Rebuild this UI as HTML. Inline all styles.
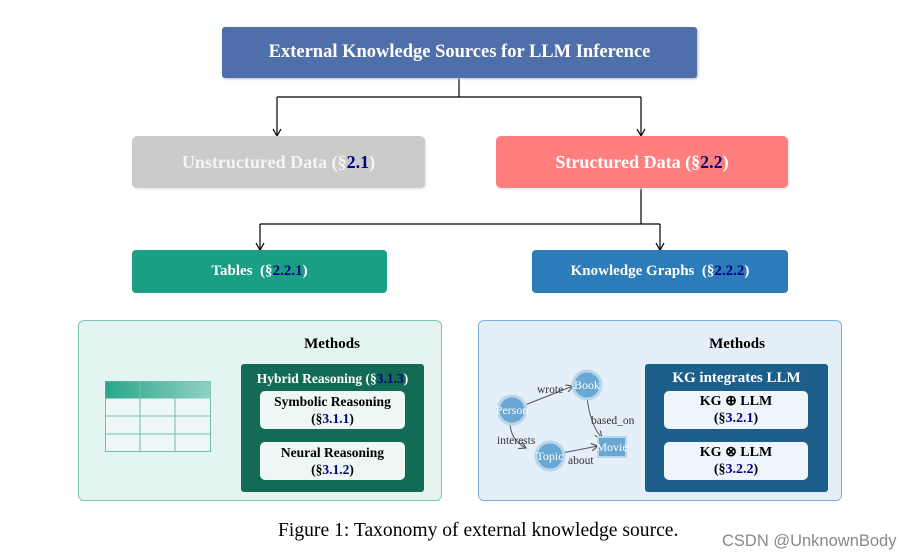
<!DOCTYPE html>
<html><head><meta charset="utf-8"><style>
body{margin:0;width:900px;height:558px;background:#fff;position:relative;overflow:hidden;font-family:"Liberation Serif",serif;}
.b{position:absolute;box-sizing:border-box;display:flex;align-items:center;justify-content:center;text-align:center;font-weight:bold;}
.n{color:#000080;}
.t{position:absolute;font-weight:bold;text-align:center;}
</style></head><body>
<svg width="900" height="558" style="position:absolute;left:0;top:0">
<g stroke="#000" stroke-width="1.2" fill="none">
<path d="M459,78 V97 M277,97 H641"/>
<path d="M277,97 V136 M641,97 V136"/>
<path d="M641,188 V224 M260,224 H660"/>
<path d="M260,224 V250 M660,224 V250"/>
<path d="M273,129 L277,136 L281,129 M637,129 L641,136 L645,129 M256,243 L260,250 L264,243 M656,243 L660,250 L664,243"/>
</g>
</svg>
<div class="b" style="left:222px;top:27px;width:475px;height:51px;background:#4e6fa9;color:#fff;font-size:18.5px;border-radius:3px;box-shadow:1px 1px 2px #bbb"><div>External Knowledge Sources for LLM Inference</div></div>
<div class="b" style="left:132px;top:136px;width:293px;height:52px;background:#cbcbcb;color:#f4f4f4;font-size:18px;border-radius:5px;box-shadow:1px 1px 2px #ddd"><div>Unstructured Data (§<span class="n">2.1</span>)</div></div>
<div class="b" style="left:496px;top:136px;width:292px;height:52px;background:#ff7f7f;color:#fff;font-size:18px;border-radius:5px;box-shadow:1px 1px 2px #ddd"><div>Structured Data (§<span class="n">2.2</span>)</div></div>
<div class="b" style="left:132px;top:250px;width:255px;height:43px;background:#1a9f85;color:#fff;font-size:15px;border-radius:4px"><div>Tables &nbsp;(§<span class="n">2.2.1</span>)</div></div>
<div class="b" style="left:532px;top:250px;width:256px;height:43px;background:#2b7cb8;color:#fff;font-size:15px;border-radius:4px"><div>Knowledge Graphs &nbsp;(§<span class="n">2.2.2</span>)</div></div>

<div style="position:absolute;left:78px;top:320px;width:364px;height:181px;box-sizing:border-box;background:#e3f4f1;border:1.5px solid #7cc6b6;border-radius:6px"></div>
<div class="t" style="left:272px;top:336px;width:120px;font-size:15px">Methods</div>
<svg width="106" height="71" style="position:absolute;left:105px;top:381px">
<defs><linearGradient id="g" x1="0" x2="1"><stop offset="0" stop-color="#2aa68b"/><stop offset="1" stop-color="#8fd1c2"/></linearGradient></defs>
<rect x="0.5" y="0.5" width="105" height="70" fill="#edf7f5" stroke="#6cc0ad"/>
<rect x="0.5" y="0.5" width="105" height="17" fill="url(#g)"/>
<g stroke="#6cc0ad"><line x1="0" y1="35" x2="106" y2="35"/><line x1="0" y1="53" x2="106" y2="53"/><line x1="35" y1="0" x2="35" y2="71"/><line x1="70" y1="0" x2="70" y2="71"/></g>
</svg>
<div style="position:absolute;left:241px;top:364px;width:183px;height:128px;background:#136b55;border-radius:3px"></div>
<div class="t" style="left:241px;top:371px;width:183px;font-size:13.5px;color:#fff">Hybrid Reasoning (§<span class="n">3.1.3</span>)</div>
<div class="b" style="left:260px;top:391px;width:145px;height:38px;background:#edf7f5;border-radius:5px;font-size:13.5px;line-height:17px"><div>Symbolic Reasoning<br>(§<span class="n">3.1.1</span>)</div></div>
<div class="b" style="left:260px;top:442px;width:145px;height:38px;background:#edf7f5;border-radius:5px;font-size:13.5px;line-height:17px"><div>Neural Reasoning<br>(§<span class="n">3.1.2</span>)</div></div>

<div style="position:absolute;left:478px;top:320px;width:364px;height:181px;box-sizing:border-box;background:#e4eff9;border:1.5px solid #7eb0d9;border-radius:6px"></div>
<div class="t" style="left:677px;top:336px;width:120px;font-size:15px">Methods</div>
<svg width="150" height="120" style="position:absolute;left:490px;top:365px;font-family:'Liberation Serif',serif">
<defs><marker id="h" markerWidth="8" markerHeight="8" refX="7" refY="4" orient="auto" markerUnits="userSpaceOnUse"><path d="M0,0 L7,4 L0,8" fill="none" stroke="#444" stroke-width="1"/></marker></defs>
<g stroke="#555" stroke-width="1" fill="none">
<path d="M35,40 L83,21" marker-end="url(#h)"/>
<path d="M20,57 Q20,75 36,83" marker-end="url(#h)"/>
<path d="M97,32 Q100,60 112,73" marker-end="url(#h)"/>
<path d="M72,88 L108,81" marker-end="url(#h)"/>
</g>
<circle cx="22" cy="45" r="14" fill="#6aa7d2" stroke="#b9d6ec" stroke-width="3"/>
<circle cx="97" cy="20" r="14" fill="#6aa7d2" stroke="#b9d6ec" stroke-width="3"/>
<circle cx="60" cy="91" r="14" fill="#6aa7d2" stroke="#b9d6ec" stroke-width="3"/>
<rect x="108" y="72" width="28" height="20" fill="#6aa7d2" stroke="#b9d6ec" stroke-width="2"/>
<g fill="#fff" font-size="12" text-anchor="middle"><text x="22" y="49">Person</text><text x="97" y="24">Book</text><text x="60" y="95">Topic</text><text x="122" y="86">Movie</text></g>
<g fill="#333" font-size="11.5"><text x="47" y="28">wrote</text><text x="7" y="79">interests</text><text x="101" y="59">based_on</text><text x="78" y="99">about</text></g>
</svg>
<div style="position:absolute;left:645px;top:364px;width:183px;height:128px;background:#1d5f8b;border-radius:3px"></div>
<div class="t" style="left:645px;top:370px;width:183px;font-size:15px;color:#fff">KG integrates LLM</div>
<div class="b" style="left:664px;top:391px;width:144px;height:38px;background:#eef5fb;border-radius:5px;font-size:14px;line-height:17px"><div>KG ⊕ LLM<br>(§<span class="n">3.2.1</span>)</div></div>
<div class="b" style="left:664px;top:442px;width:144px;height:38px;background:#eef5fb;border-radius:5px;font-size:14px;line-height:17px"><div>KG ⊗ LLM<br>(§<span class="n">3.2.2</span>)</div></div>

<div style="position:absolute;left:278px;width:410px;top:520px;font-size:19.6px;white-space:nowrap">Figure 1: Taxonomy of external knowledge source.</div>
<div style="position:absolute;left:722px;top:532px;font-family:'Liberation Sans',sans-serif;font-size:16.5px;color:#888;white-space:nowrap">CSDN @UnknownBody</div>
</body></html>
